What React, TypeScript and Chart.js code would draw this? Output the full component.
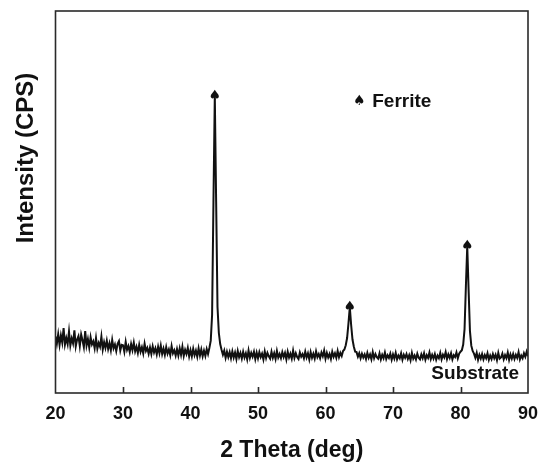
import React, { useEffect, useRef } from "react";
import { Chart, registerables } from "chart.js";

Chart.register(...registerables);

// 2θ sample positions (deg), 0.2° step from 20 to 90
const thetaStart = 20;
const thetaStep = 0.2;

// Measured intensity (arbitrary CPS units), one value per 0.2° step
const intensity: number[] = [
  14.8, 12.9, 15.4, 12.6, 15.1, 13.2, 17.0, 12.7, 14.4, 12.8,
  16.1, 12.4, 14.3, 13.0, 16.4, 12.2, 14.0, 14.9, 12.3, 15.3,
  13.8, 12.0, 16.2, 12.4, 14.1, 11.9, 14.6, 12.7, 13.5, 11.7,
  14.4, 11.6, 13.1, 12.1, 14.8, 11.4, 13.3, 11.8, 13.7, 11.5,
  13.0, 11.2, 13.9, 11.7, 12.7, 11.0, 12.9, 13.6, 11.1, 12.6,
  12.5, 10.8, 13.4, 11.3, 12.3, 10.7, 12.8, 11.2, 13.2, 10.9,
  12.1, 10.5, 12.6, 10.8, 12.0, 10.4, 12.9, 11.0, 11.8, 10.3,
  11.9, 10.2, 12.2, 10.6, 11.7, 10.1, 12.1, 10.4, 12.4, 10.2,
  11.6, 10.0, 12.0, 10.3, 11.4, 9.9, 12.3, 10.4, 11.2, 9.8,
  11.5, 9.8, 11.7, 10.0, 12.1, 9.7, 11.3, 10.2, 11.8, 9.6,
  11.2, 9.6, 11.6, 9.9, 11.1, 9.5, 11.7, 9.8, 11.4, 9.6,
  11.1, 9.7, 11.5, 10.2, 11.8, 13.7, 20.5, 50.0, 77.8, 50.0,
  22.5, 15.7, 12.8, 11.3, 10.0, 11.1, 9.2, 10.8, 9.4, 10.7,
  9.1, 10.9, 9.3, 10.6, 8.9, 11.0, 9.4, 10.5, 9.0, 10.8,
  9.3, 10.4, 8.8, 11.1, 9.2, 10.5, 9.5, 10.8, 8.9, 10.6,
  9.1, 10.7, 9.4, 10.3, 8.8, 10.9, 9.2, 10.5, 9.6, 9.0,
  10.8, 9.2, 10.4, 8.9, 11.0, 9.3, 10.2, 9.1, 10.7, 9.4,
  10.5, 8.8, 10.8, 9.3, 10.3, 9.0, 11.1, 9.2, 10.4, 9.4,
  8.9, 10.6, 9.5, 10.2, 9.1, 10.8, 9.3, 10.4, 8.8, 10.7,
  9.2, 10.3, 9.0, 10.9, 9.4, 10.2, 9.1, 10.6, 9.6, 11.1,
  9.0, 10.5, 9.3, 10.2, 8.9, 10.8, 9.5, 10.4, 9.2, 11.0,
  9.4, 10.5, 9.7, 11.0, 11.4, 12.5, 14.4, 18.2, 22.5, 17.8,
  14.0, 12.1, 10.8, 10.7, 9.5, 10.4, 9.1, 10.3, 9.3, 10.1,
  8.9, 10.5, 9.2, 10.1, 8.8, 10.7, 9.1, 10.2, 9.4, 9.0,
  10.4, 8.8, 10.0, 9.1, 10.6, 8.9, 9.9, 9.2, 10.3, 8.7,
  10.1, 9.0, 10.5, 8.8, 9.8, 9.1, 10.4, 8.7, 10.0, 9.2,
  10.2, 8.9, 9.9, 8.6, 10.5, 9.0, 9.8, 8.8, 10.3, 9.2,
  8.8, 10.1, 9.1, 10.4, 8.7, 9.9, 9.2, 10.6, 8.9, 10.0,
  9.0, 10.2, 8.7, 9.8, 9.1, 10.5, 8.8, 10.0, 9.3, 10.7,
  8.9, 10.1, 9.2, 10.4, 8.8, 9.9, 9.4, 10.6, 9.1, 10.3,
  10.8, 11.2, 12.7, 16.7, 28.0, 38.5, 27.0, 16.2, 12.4, 11.0,
  10.3, 9.2, 10.5, 8.7, 10.0, 9.0, 10.2, 8.8, 9.9, 9.1,
  10.4, 8.7, 9.8, 8.9, 10.2, 9.1, 10.0, 8.6, 10.5, 9.0,
  9.3, 10.3, 8.8, 9.9, 9.1, 10.6, 8.7, 10.1, 9.0, 10.2,
  8.9, 10.0, 9.2, 10.7, 8.8, 9.8, 9.1, 10.4, 9.5, 10.8,
  9.6,
];

// Ferrite peak positions (2θ) and their top intensities
const ferritePeaks: number[] = [43.6, 63.6, 81.0];
const ferritePeakTops: number[] = [77.8, 22.5, 38.5];

const xTicks: number[] = [20, 30, 40, 50, 60, 70, 80, 90];
const xTitle = "2 Theta (deg)";
const yTitle = "Intensity (CPS)";
const legendLabel = "Ferrite";
const sampleLabel = "Substrate";

const FONT = "'Liberation Sans', Arial, Helvetica, sans-serif";
const SPADE = "\u2660";

const overlayPlugin = {
  id: "xrdOverlay",
  afterDraw(chart: any) {
    const { ctx, chartArea, scales } = chart;
    const xs = scales.x;
    const ys = scales.y;
    const { left, right, top, bottom } = chartArea;
    ctx.save();
    // frame
    ctx.strokeStyle = "#2a2a2a";
    ctx.lineWidth = 1.6;
    ctx.strokeRect(left, top, right - left, bottom - top);
    // inward ticks on bottom axis
    ctx.beginPath();
    xTicks.forEach((t) => {
      if (t === xTicks[0] || t === xTicks[xTicks.length - 1]) return;
      const px = Math.round(xs.getPixelForValue(t)) + 0.5;
      ctx.moveTo(px, bottom);
      ctx.lineTo(px, bottom - 6);
    });
    ctx.stroke();

    // spade markers on the peaks
    ctx.fillStyle = "#111";
    ctx.font = "14px 'DejaVu Sans', sans-serif";
    ctx.textAlign = "center";
    ctx.textBaseline = "alphabetic";
    ferritePeaks.forEach((p, i) => {
      const px = xs.getPixelForValue(p);
      const py = ys.getPixelForValue(ferritePeakTops[i]);
      ctx.fillText(SPADE, px, py + 4);
    });

    // legend
    const lx = xs.getPixelForValue(65);
    const ly = ys.getPixelForValue(76.5);
    ctx.fillText(SPADE, lx, ly + 4);
    ctx.textAlign = "left";
    ctx.font = `bold 19px ${FONT}`;
    ctx.fillText(legendLabel, lx + 13, ly + 6);

    // sample label
    ctx.textAlign = "right";
    ctx.font = `bold 19px ${FONT}`;
    ctx.fillText(sampleLabel, right - 9, bottom - 14);

    // axis titles
    ctx.textAlign = "center";
    ctx.font = `bold 23px ${FONT}`;
    ctx.fillText(xTitle, (left + right) / 2, 457);

    ctx.save();
    ctx.translate(33, 158);
    ctx.rotate(-Math.PI / 2);
    ctx.font = `bold 24px ${FONT}`;
    ctx.textAlign = "center";
    ctx.fillText(yTitle, 0, 0);
    ctx.restore();

    ctx.restore();
  },
};

export default function App() {
  const canvasRef = useRef<HTMLCanvasElement | null>(null);

  useEffect(() => {
    if (!canvasRef.current) return;
    const points = intensity.map((v, i) => ({
      x: Math.round((thetaStart + i * thetaStep) * 10) / 10,
      y: v,
    }));
    const chart = new Chart(canvasRef.current, {
      type: "line",
      data: {
        datasets: [
          {
            data: points,
            borderColor: "#111",
            borderWidth: 2,
            pointRadius: 0,
            tension: 0,
            fill: false,
          },
        ],
      },
      options: {
        animation: false,
        responsive: true,
        maintainAspectRatio: false,
        layout: { padding: { left: 55.5, right: 22, top: 11, bottom: 0 } },
        plugins: {
          legend: { display: false },
          tooltip: { enabled: false },
          title: { display: false },
        },
        scales: {
          x: {
            type: "linear",
            min: 20,
            max: 90,
            afterBuildTicks: (scale: any) => {
              scale.ticks = xTicks.map((v) => ({ value: v }));
            },
            afterFit: (scale: any) => {
              scale.height = 82;
            },
            grid: { display: false },
            border: { display: false },
            ticks: {
              color: "#111",
              padding: 2,
              maxRotation: 0,
              font: { family: FONT, size: 18, weight: "bold" },
            },
          },
          y: {
            display: false,
            min: 0,
            max: 100,
          },
        },
      },
      plugins: [overlayPlugin],
    } as any);
    return () => chart.destroy();
  }, []);

  return (
    <div
      style={{
        position: "absolute",
        left: 0,
        top: 0,
        width: 550,
        height: 475,
        background: "#fff",
      }}
    >
      <canvas ref={canvasRef} />
    </div>
  );
}
